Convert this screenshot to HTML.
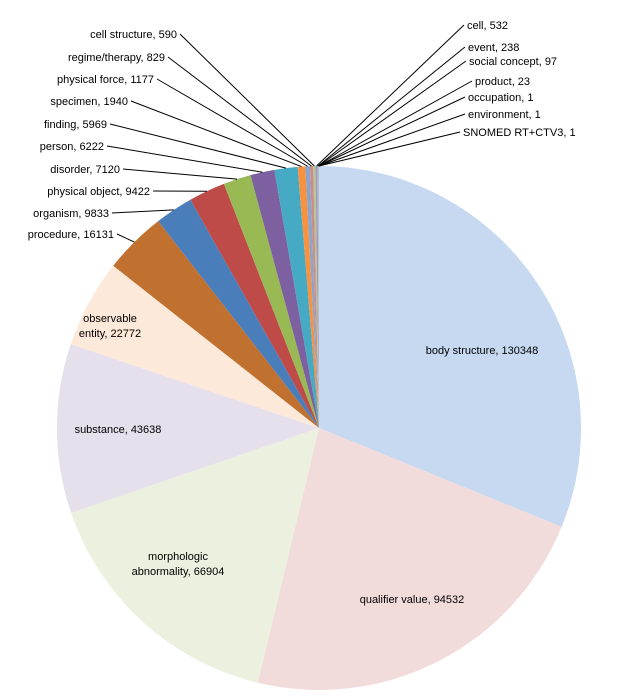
<!DOCTYPE html>
<html><head><meta charset="utf-8"><style>
body{margin:0;background:#fff}
svg{display:block;font-family:"Liberation Sans",sans-serif;font-size:11px}
</style></head><body>
<svg id="chart" width="642" height="698" viewBox="0 0 642 698"></svg>
<script>
const categories=["body structure","qualifier value","morphologic abnormality","substance","observable entity","procedure","organism","physical object","disorder","person","finding","specimen","physical force","regime/therapy","cell structure","cell","event","social concept","product","occupation","environment","SNOMED RT+CTV3"];
const values=[130348,94532,66904,43638,22772,16131,9833,9422,7120,6222,5969,1940,1177,829,590,532,238,97,23,1,1,1];
const colors=["#c6d9f1","#f2dcdb","#ebf1de","#e5e0ec","#fde9d9","#c0712f","#4a7ebb","#be4b48","#98b954","#7d60a0","#46aac5","#f69240","#8ea5cb","#cd8c8a","#b2c78f","#a898c0","#8ec3d4","#f9b889","#4f81bd","#c0504d","#9bbb59","#8064a2"];
// label layout: [x, y, anchor, outside?]
const labelPos=[[482,354,"middle",0],[412,603,"middle",0],[178,560,"middle",0],[118,433,"middle",0],[110,322,"middle",0],
[114,238,"end",1],[109,217,"end",1],[150,195,"end",1],[120,173,"end",1],[104,150,"end",1],[107,128,"end",1],[128,105,"end",1],[154,83,"end",1],[165,61,"end",1],[177,38,"end",1],
[467,29,"start",1],[468,51,"start",1],[469,65,"start",1],[475,85,"start",1],[468,101,"start",1],[468,118,"start",1],[463,136,"start",1]];
const cx=319,cy=428,R=262;
const svg=document.getElementById('chart');const NS="http://www.w3.org/2000/svg";
const total=values.reduce((a,b)=>a+b,0);
function pt(a,r){return [cx+r*Math.sin(a),cy-r*Math.cos(a)];}
let a0=0;
values.forEach((v,i)=>{
  const a1=a0+v/total*2*Math.PI;
  const p0=pt(a0,R),p1=pt(a1,R);
  const path=document.createElementNS(NS,'path');
  path.setAttribute('d',`M${cx},${cy}L${p0[0]},${p0[1]}A${R},${R} 0 ${a1-a0>Math.PI?1:0} 1 ${p1[0]},${p1[1]}Z`);
  path.setAttribute('fill',colors[i]);
  
  
  svg.appendChild(path);
  const lp=labelPos[i];
  const label=categories[i]+", "+values[i];
  if(lp[3]){
    const m=pt((a0+a1)/2,R);
    const ln=document.createElementNS(NS,'line');
    const tx=lp[2]=="end"?lp[0]+3:lp[0]-3;
    ln.setAttribute('x1',tx);ln.setAttribute('y1',lp[1]-4);ln.setAttribute('x2',m[0]);ln.setAttribute('y2',m[1]);
    ln.setAttribute('stroke','#000');ln.setAttribute('stroke-width','1');
    
    
    svg.appendChild(ln);
  }
  const t=document.createElementNS(NS,'text');
  t.setAttribute('x',lp[0]);t.setAttribute('y',lp[1]);t.setAttribute('text-anchor',lp[2]);t.setAttribute('fill','#000');
  
  
  if(i==2||i==4){
    const parts=i==2?["morphologic","abnormality, "+values[i]]:["observable","entity, "+values[i]];
    parts.forEach((s,k)=>{const ts=document.createElementNS(NS,'tspan');ts.setAttribute('x',lp[0]);ts.setAttribute('dy',k?15:0);ts.textContent=s;t.appendChild(ts);});
  } else t.textContent=label;
  svg.appendChild(t);
  a0=a1;
});
</script>
</body></html>
